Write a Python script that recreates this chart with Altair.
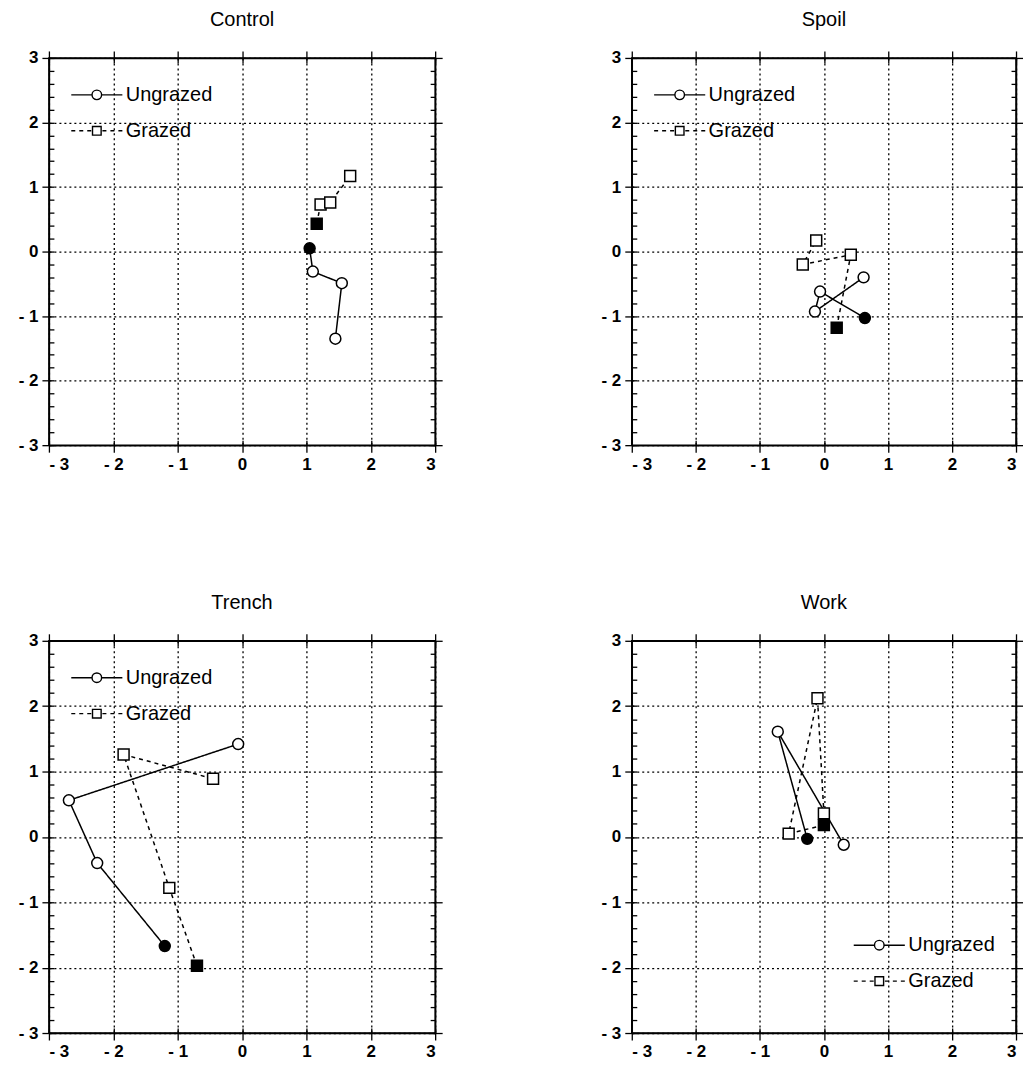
import altair as alt
import pandas as pd

panels = ["Control", "Spoil", "Trench", "Work"]
series_names = ["Ungrazed", "Grazed"]
series_codes = ["U", "G"]

# Control
control_ungrazed_x = [1.05, 1.10, 1.55, 1.45]
control_ungrazed_y = [0.05, -0.31, -0.49, -1.35]
control_grazed_x = [1.16, 1.22, 1.37, 1.68]
control_grazed_y = [0.43, 0.73, 0.76, 1.17]
# Spoil
spoil_ungrazed_x = [0.64, -0.06, -0.14, 0.62]
spoil_ungrazed_y = [-1.03, -0.62, -0.93, -0.40]
spoil_grazed_x = [0.20, 0.42, -0.33, -0.12]
spoil_grazed_y = [-1.18, -0.05, -0.20, 0.17]
# Trench
trench_ungrazed_x = [-1.20, -2.25, -2.69, -0.06]
trench_ungrazed_y = [-1.67, -0.40, 0.56, 1.42]
trench_grazed_x = [-0.70, -1.13, -1.84, -0.45]
trench_grazed_y = [-1.97, -0.78, 1.26, 0.89]
# Work
work_ungrazed_x = [-0.26, -0.72, 0.31]
work_ungrazed_y = [-0.03, 1.61, -0.12]
work_grazed_x = [0.00, -0.55, -0.10, 0.00]
work_grazed_y = [0.18, 0.05, 2.12, 0.36]

major_ticks = [-3, -2, -1, 0, 1, 2, 3]
minor_ticks = [round(-3 + 0.2 * i, 1) for i in range(31)]

data = {
    "Control": (control_ungrazed_x, control_ungrazed_y, control_grazed_x, control_grazed_y),
    "Spoil": (spoil_ungrazed_x, spoil_ungrazed_y, spoil_grazed_x, spoil_grazed_y),
    "Trench": (trench_ungrazed_x, trench_ungrazed_y, trench_grazed_x, trench_grazed_y),
    "Work": (work_ungrazed_x, work_ungrazed_y, work_grazed_x, work_grazed_y),
}

rows = []
for p in panels:
    ux, uy, gx, gy = data[p]
    for s, code, xs, ys in (("Ungrazed", "U", ux, uy), ("Grazed", "G", gx, gy)):
        for i, (a, b) in enumerate(zip(xs, ys)):
            rows.append({"panel": p, "series": code, "legend_key": s,
                         "step": i + 1, "x": a, "y": b})
df = pd.DataFrame(rows)

FONT = "Liberation Sans Narrow, Liberation Sans, Arial, sans-serif"

CIRCLE_SYM = ("M-1.6,0H-0.3 M0.3,0H1.6 "
              "M0.3,0A0.3,0.3 0 1,1 -0.3,0A0.3,0.3 0 1,1 0.3,0Z")
SQUARE_SYM = ("M-1.6,0H-1.35 M-1.1,0H-0.85 M-0.6,0H-0.35 "
              "M-0.27,-0.27H0.27V0.27H-0.27Z "
              "M0.35,0H0.6 M0.85,0H1.1 M1.35,0H1.6")

label_expr = "datum.value < 0 ? '- ' + (-datum.value) : datum.label"


def ax(orient, values, inside=False, size=7, labels=False, grid=False, domain=True):
    kw = dict(orient=orient, values=values, labels=labels, grid=grid, tickSize=size,
              domain=domain)
    if inside:
        kw["offset"] = -size
        kw["domain"] = False
    if labels:
        kw["labelExpr"] = label_expr
        kw["labelPadding"] = 4
    if grid:
        kw.update(gridDash=[2, 3], gridColor="black", gridWidth=1.3)
    return alt.Axis(**kw)


def panel(name, lx, ly, w, h):
    d = df[df.panel == name]
    xs = alt.Scale(domain=[-3, 3], nice=False, zero=False)
    ys = alt.Scale(domain=[-3, 3], nice=False, zero=False)
    legend = alt.Legend(
        title=None, orient="none", legendX=lx, legendY=ly, padding=0,
        symbolSize=1024, symbolStrokeColor="black", symbolStrokeWidth=1.4,
        symbolFillColor="white", labelOffset=12, rowPadding=9,
        labelFontSize=20, labelFont=FONT, labelColor="black",
        symbolType=alt.ExprRef(
            "datum.value === 'Ungrazed' ? '%s' : '%s'" % (CIRCLE_SYM, SQUARE_SYM)),
    )
    lines = alt.Chart(d).mark_line(strokeWidth=1.5).encode(
        x=alt.X("x:Q", scale=xs, title=None,
                axis=ax("bottom", major_ticks, labels=True, grid=True)),
        y=alt.Y("y:Q", scale=ys, title=None,
                axis=ax("left", major_ticks, labels=True, grid=True)),
        detail="series:N",
        order="step:Q",
        color=alt.Color("legend_key:N",
                        scale=alt.Scale(domain=series_names, range=["black", "black"]),
                        legend=legend),
        strokeDash=alt.StrokeDash("series:N",
                                  scale=alt.Scale(domain=series_codes, range=[[1, 0], [4, 4]]),
                                  legend=None),
    )
    pts = alt.Chart(d).mark_point(stroke="black", strokeWidth=1.5, opacity=1,
                                  fillOpacity=1, size=120).encode(
        x=alt.X("x:Q", scale=xs, title=None, axis=ax("top", major_ticks)),
        y=alt.Y("y:Q", scale=ys, title=None, axis=ax("right", major_ticks)),
        shape=alt.Shape("series:N",
                        scale=alt.Scale(domain=series_codes, range=["circle", "square"]),
                        legend=None),
        fill=alt.condition("datum.step == 1", alt.value("black"), alt.value("white")),
    )
    ticks_a = alt.Chart(d).mark_point(opacity=0).encode(
        x=alt.X("x:Q", scale=xs, title=None, axis=ax("bottom", major_ticks, inside=True, size=5)),
        y=alt.Y("y:Q", scale=ys, title=None, axis=ax("left", minor_ticks, inside=True, size=5)),
    )
    ticks_b = alt.Chart(d).mark_point(opacity=0).encode(
        x=alt.X("x:Q", scale=xs, title=None, axis=ax("top", major_ticks, inside=True, size=5)),
        y=alt.Y("y:Q", scale=ys, title=None, axis=ax("right", minor_ticks, inside=True, size=5)),
    )
    return (
        alt.layer(lines, ticks_a, ticks_b, pts)
        .resolve_scale(x="independent", y="independent")
        .resolve_axis(x="independent", y="independent")
        .properties(width=w, height=h,
                    title=alt.TitleParams(name, fontSize=20, font=FONT,
                                          fontWeight="normal", offset=19, color="black"))
    )


c1 = panel("Control", 31, 20, 387, 388)
c2 = panel("Spoil", 31, 20, 385, 388)
c3 = panel("Trench", 31, 20, 387, 393)
c4 = panel("Work", 231, 288, 385, 393)


def indep(c):
    return (c.resolve_scale(color="independent", strokeDash="independent", shape="independent")
             .resolve_legend(color="independent"))


row1 = indep(alt.hconcat(c1, c2, spacing=156))
row2 = indep(alt.hconcat(c3, c4, spacing=156))

chart = (
    indep(alt.vconcat(row1, row2, spacing=119))
    .properties(padding={"left": 9, "top": 0, "right": -2, "bottom": 0},
                background="white")
    .configure_view(stroke="black", strokeWidth=1.5)
    .configure_axis(domainColor="black", domainWidth=1.5, tickColor="black", tickWidth=1.3,
                    labelFont=FONT, labelFontSize=17, labelFontWeight="bold",
                    labelColor="black")
)

chart.save("out.html", embed_options={"renderer": "svg", "actions": False})
